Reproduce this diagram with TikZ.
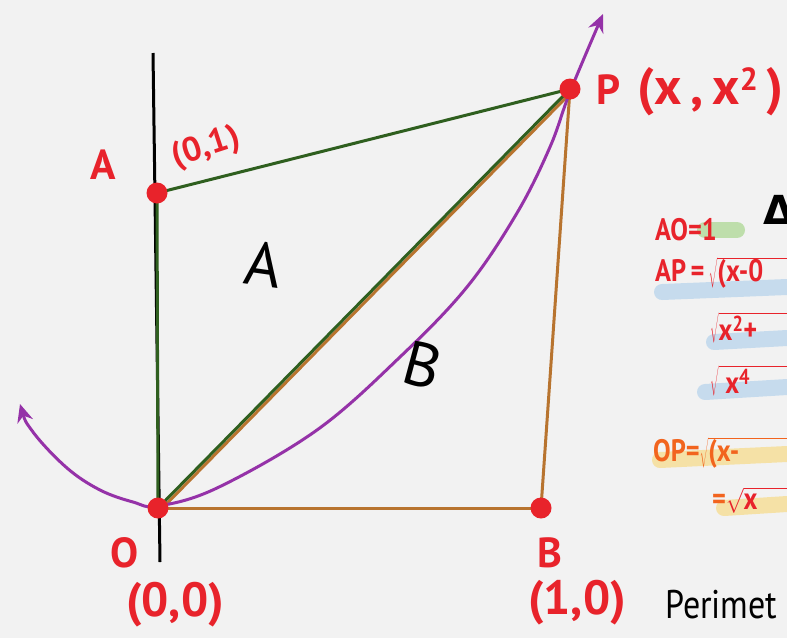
\documentclass[tikz,border=0pt]{standalone}
\usepackage{fontspec}
\setmainfont{PT Sans}
\newfontfamily\dvfont{DejaVu Sans}
\usetikzlibrary{arrows.meta}
\definecolor{bgc}{HTML}{F2F2F2}
\definecolor{dotred}{HTML}{E8232B}
\definecolor{lgreen}{HTML}{2F5F1F}
\definecolor{lbrown}{HTML}{B8742F}
\definecolor{curvec}{HTML}{9532A8}
\definecolor{ored}{HTML}{F2641E}
\definecolor{hgreen}{HTML}{9CD27C}
\definecolor{hblue}{HTML}{A9CDEB}
\definecolor{hyellow}{HTML}{F8D774}
\begin{document}
\begin{tikzpicture}[x=1pt,y=1pt,
  dot/.style={circle,fill=dotred,inner sep=0pt,minimum size=21pt},
  gline/.style={lgreen,line width=3pt},
  bline/.style={lbrown,line width=3pt},
  lbl/.style={text=dotred,font=\bfseries\fontsize{42}{42}\selectfont,inner sep=0pt},
  slbl/.style={text=dotred,font=\bfseries\fontsize{34}{34}\selectfont,inner sep=0pt},
  blk/.style={text=black,font=\fontsize{62}{62}\selectfont,inner sep=0pt},
  eq/.style={text=dotred,font=\bfseries\fontsize{31}{31}\selectfont,inner sep=0pt,anchor=west},
  hl/.style={line width=16pt,line cap=round,opacity=0.6}
]
\useasboundingbox (0,0) rectangle (787,-638);
\fill[bgc] (0,0) rectangle (787,-638);
\clip (0,0) rectangle (787,-638);

% coordinates of the points
\coordinate (o) at (158,-508);
\coordinate (a) at (157,-193);
\coordinate (p) at (570,-89);
\coordinate (b) at (541,-508);
\coordinate (axtop) at (153,-53);
\coordinate (axbot) at (160,-562);

% axis
\draw[line width=3pt] (axtop) -- (axbot);

% segments
\draw[bline] (o) -- (b);
\draw[bline] (b) -- (p);
\draw[bline,transform canvas={xshift=2.5pt,yshift=-2pt}] (o) -- (p);
\draw[gline] (o) -- (p);
\draw[gline] (a) -- (p);
\draw[gline] (a) -- (o);

% parabola
\draw[curvec,line width=3pt,{Stealth[length=18pt,width=16pt]}-{Stealth[length=18pt,width=16pt]}]
  plot[smooth,tension=0.6] coordinates {(20,-404) (33,-432) (67,-468) (100,-490) (133,-502) (158,-506)
  (217,-488) (317,-430) (400,-357) (467,-287) (517,-213) (550,-147) (570,-92) (603,-14)};

% dots
\node[dot] (O) at (o) {};
\node[dot] (A) at (a) {};
\node[dot] (P) at (p) {};
\node[dot] (B) at (b) {};

% labels
\node[lbl] (lA) at (103,-165) {A};
\node[slbl,rotate=18] (lA1) at (206,-148) {(0,1)};
\node[lbl,anchor=west] (lP) at (596,-92) {P\ \,{\fontsize{52}{52}\selectfont(x\,,\,x\raisebox{14pt}{\fontsize{32}{32}\selectfont 2}\,)}};
\node[lbl] (lO) at (125,-553) {O};
\node[lbl,font=\bfseries\fontsize{48}{48}\selectfont] (lO1) at (175,-605) {(0,0)};
\node[lbl] (lB) at (550,-553) {B};
\node[lbl,font=\bfseries\fontsize{48}{48}\selectfont] (lB1) at (577,-603) {(1,0)};
\node[blk,anchor=west,font=\fontsize{40}{40}\selectfont] (per) at (665,-605) {\scalebox{0.85}[1]{Perimet}};
\node[blk,rotate=-8] (rA) at (264,-264) {A};
\node[blk,rotate=-15] (rB) at (423,-365) {B};
\node[blk,anchor=west,font=\dvfont\bfseries\fontsize{40}{40}\selectfont] (tri) at (763,-210) {Δ};

% highlights
\draw[hl,hgreen] (705,-230) -- (737,-230);
\draw[hl,hblue] (662,-292) -- (787,-287);
\draw[hl,hblue] (714,-342) -- (787,-338);
\draw[hl,hblue] (705,-392) -- (787,-387);
\draw[hl,hyellow] (660,-460) -- (787,-454);
\draw[hl,hyellow] (724,-508) -- (787,-504);

% equations
\node[eq] (e1) at (655,-230) {\scalebox{0.85}[1]{AO=1}};
\node[eq] (e2) at (655,-273) {\scalebox{0.85}[1]{AP\,=\,$\sqrt{\mbox{(x-0}\hspace{60pt}}$}};
\node[eq] (e3) at (710,-328) {\scalebox{0.85}[1]{$\sqrt{\mbox{x\textsuperscript{2}+}\hspace{60pt}}$}};
\node[eq] (e4) at (710,-381) {\scalebox{0.85}[1]{$\sqrt{\mbox{ x\textsuperscript{4}}\hspace{60pt}}$}};
\node[eq,text=ored] (e5) at (653,-453) {\scalebox{0.85}[1]{OP=$\sqrt{\mbox{(x-}\hspace{60pt}}$}};
\node[eq] (e6) at (712,-500) {\scalebox{0.85}[1]{\textcolor{ored}{=}$\sqrt{\mbox{x}\hspace{60pt}}$}};
\end{tikzpicture}
\end{document}
